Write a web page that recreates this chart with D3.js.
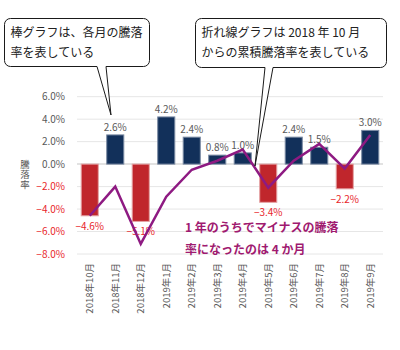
<!DOCTYPE html>
<html><head><meta charset="utf-8">
<script src="https://cdn.jsdelivr.net/npm/d3@7"></script>
<style>body{margin:0;background:#fff}svg{display:block;font-family:"Noto Sans CJK JP","Noto Sans",sans-serif}</style>
</head><body><svg id="c" width="400" height="350"></svg>
<script>
const categories = ["2018年10月","2018年11月","2018年12月","2019年1月","2019年2月","2019年3月","2019年4月","2019年5月","2019年6月","2019年7月","2019年8月","2019年9月"];
const monthly = [-4.6, 2.6, -5.1, 4.2, 2.4, 0.8, 1.0, -3.4, 2.4, 1.5, -2.2, 3.0];
const cumulative = [-4.6, -2.0, -7.1, -2.9, -0.5, 0.3, 1.3, -2.1, 0.3, 1.8, -0.4, 2.6];
const yTicks = [-8, -6, -4, -2, 0, 2, 4, 6];
const yTitle = "騰落率";
const callout1 = ["棒グラフは、各月の騰落","率を表している"];
const callout2 = ["折れ線グラフは 2018 年 10 月","からの累積騰落率を表している"];
const note = ["1 年のうちでマイナスの騰落","率になったのは 4 か月"];

const svg = d3.select("#c");
const x = d3.scaleBand().domain(categories).range([77, 383]).paddingInner(0.33).paddingOuter(0.165);
const y = d3.scaleLinear().domain([-8, 6]).range([254, 96.7]);
const gray = "#595959", red = "#e8262b";

// gridlines
svg.append("g").selectAll("line").data(yTicks).join("line")
  .attr("x1", 77).attr("x2", 383)
  .attr("y1", d => y(d)).attr("y2", d => y(d))
  .attr("stroke", d => d === 0 ? "#d9d9d9" : "#e6e6e6")
  .attr("stroke-width", d => d === 0 ? 1.5 : 1);

// y tick labels
svg.append("g").selectAll("text").data(yTicks).join("text")
  .attr("x", 65).attr("y", d => y(d)).attr("dy", "0.35em")
  .attr("text-anchor", "end").attr("font-size", 10)
  .attr("fill", d => d < 0 ? red : gray)
  .text(d => d3.format(".1f")(d) + "%");

// y title (vertical writing)
svg.append("text")
  .attr("x", 25).attr("y", 160)
  .style("writing-mode", "vertical-rl").style("text-orientation", "upright")
  .attr("font-size", 9.5).attr("letter-spacing", 0.5).attr("fill", gray)
  .text(yTitle);

// bars
svg.append("g").selectAll("rect").data(monthly).join("rect")
  .attr("x", (d, i) => x(categories[i]))
  .attr("width", x.bandwidth())
  .attr("y", d => y(Math.max(0, d)))
  .attr("height", d => Math.abs(y(d) - y(0)))
  .attr("fill", d => d < 0 ? "#c0262c" : "#12305a")
  .attr("stroke", d => d < 0 ? "#e4a3a5" : "#7a8aa3")
  .attr("stroke-width", 1);

// bar labels
svg.append("g").selectAll("text").data(monthly).join("text")
  .attr("x", (d, i) => x(categories[i]) + x.bandwidth() / 2)
  .attr("y", d => d < 0 ? y(d) + 14 : y(d) - 4)
  .attr("text-anchor", "middle").attr("font-size", 10)
  .attr("fill", d => d < 0 ? red : gray)
  .text(d => d3.format(".1f")(d) + "%");

// cumulative line
svg.append("path").datum(cumulative)
  .attr("fill", "none").attr("stroke", "#8e1a82").attr("stroke-width", 2.5)
  .attr("stroke-linejoin", "miter")
  .attr("d", d3.line().x((d, i) => x(categories[i]) + x.bandwidth() / 2).y(d => y(d)));

// x labels
svg.append("g").selectAll("text").data(categories).join("text")
  .attr("transform", d => `translate(${x(d) + x.bandwidth() / 2 + 3.5},263) rotate(-90)`)
  .attr("text-anchor", "end").attr("font-size", 9.5).attr("fill", gray)
  .text(d => d);

// note
svg.append("g").selectAll("text").data(note).join("text")
  .attr("x", 185).attr("y", (d, i) => 232 + i * 21.5)
  .attr("font-size", 12).attr("font-weight", "bold").attr("fill", "#a01a70")
  .text(d => d);

// callouts
function callout(x0, y0, x1, y1, b0, b1, tx, ty, lines) {
  const r = 6;
  const p = d3.path();
  p.moveTo(x0 + r, y0);
  p.lineTo(x1 - r, y0); p.arcTo(x1, y0, x1, y0 + r, r);
  p.lineTo(x1, y1 - r); p.arcTo(x1, y1, x1 - r, y1, r);
  p.lineTo(b1, y1); p.lineTo(tx, ty); p.lineTo(b0, y1);
  p.lineTo(x0 + r, y1); p.arcTo(x0, y1, x0, y1 - r, r);
  p.lineTo(x0, y0 + r); p.arcTo(x0, y0, x0 + r, y0, r);
  p.closePath();
  svg.append("path").attr("d", p.toString()).attr("fill", "#fff").attr("stroke", "#1a1a1a").attr("stroke-width", 1);
  svg.append("g").selectAll("text").data(lines).join("text")
    .attr("x", x0 + 6).attr("y", (d, i) => y0 + 18 + i * 20)
    .attr("font-size", 12).attr("fill", "#222").text(d => d);
}
callout(4.5, 18.5, 149.5, 66.5, 97, 106, 111, 115, callout1);
callout(195.5, 18.5, 386.5, 67.5, 265, 273, 255, 166, callout2);
</script></body></html>
